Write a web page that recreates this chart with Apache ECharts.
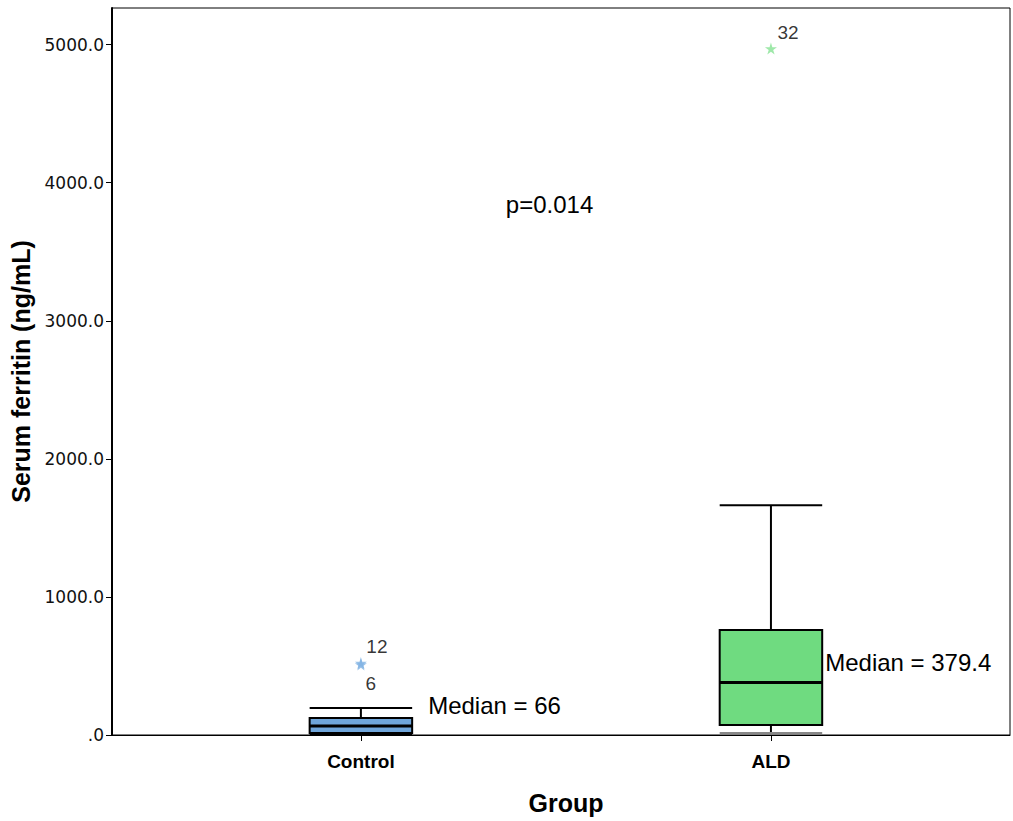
<!DOCTYPE html>
<html><head><meta charset="utf-8">
<script src="https://cdn.jsdelivr.net/npm/echarts@6/dist/echarts.min.js"></script>
<style>html,body{margin:0;padding:0;background:#fff}#c{width:1013px;height:821px}</style>
</head><body><div id="c"></div>
<script>
const categories = ['Control', 'ALD'];
const mins    = [5, 14];
const q1s     = [14, 72];
const medians = [66, 379.4];
const q3s     = [123, 760];
const maxs    = [195, 1664];
const medianLabels = ['Median = 66', 'Median = 379.4'];
// outliers: [category index, value, case id]
const outliers = [[0, 521, '12'], [0, 510, '6'], [1, 4971, '32']];
const pText = 'p=0.014';
const pPos = [0.46, 3842];
const yTicks = [0, 1000, 2000, 3000, 4000, 5000];

const fills = ['#6fa5da', '#6fdb80'];
const starColors = ['#7fb1e2', '#86e294'];
const star = 'path://M50,0 L61,35 L98,35 L68,57 L79,91 L50,70 L21,91 L32,57 L2,35 L39,35 Z';
const font = '"Liberation Sans", Arial, sans-serif';
const wideFont = '"DejaVu Sans", sans-serif';
const labelOffsets = { '12': [16, -17], '6': [10, 19], '32': [17, -16] };

const boxData = categories.map((c, i) => [i, mins[i], q1s[i], medians[i], q3s[i], maxs[i]]);

const chart = echarts.init(document.getElementById('c'), null, { renderer: 'svg' });
chart.setOption({
  animation: false,
  backgroundColor: '#fff',
  grid: { left: 112, right: 3, top: 8, bottom: 86, show: true, borderColor: '#000', borderWidth: 1 },
  xAxis: {
    type: 'value', min: -0.607, max: 1.583,
    splitLine: { show: false },
    axisLine: { show: true, onZero: false, lineStyle: { color: '#000', width: 1 } },
    axisTick: { show: true, customValues: [0, 1], length: 6, lineStyle: { color: '#000' } },
    axisLabel: { customValues: [0, 1], formatter: v => categories[Math.round(v)],
      color: '#000', fontWeight: 'bold', fontSize: 19, fontFamily: font, margin: 17 },
    name: 'Group', nameLocation: 'middle', nameGap: 55,
    nameTextStyle: { color: '#000', fontWeight: 'bold', fontSize: 25, fontFamily: font, padding: [0, 0, 0, 10] }
  },
  yAxis: {
    type: 'value', min: 0, max: 5265, interval: 1000,
    splitLine: { show: false },
    axisLine: { show: true, onZero: false, lineStyle: { color: '#000', width: 2 } },
    axisTick: { show: true, customValues: yTicks, length: 6, lineStyle: { color: '#000' } },
    axisLabel: { customValues: yTicks, formatter: v => v === 0 ? '.0' : v.toFixed(1),
      color: '#111', fontSize: 17, fontFamily: wideFont, margin: 8 },
    name: 'Serum ferritin (ng/mL)', nameLocation: 'middle', nameGap: 79,
    nameTextStyle: { color: '#000', fontWeight: 'bold', fontSize: 25, fontFamily: font }
  },
  series: [
    {
      type: 'custom',
      data: boxData,
      renderItem: function (params, api) {
        const x = api.value(0);
        const hw = 0.125;
        const pMin = api.coord([x, api.value(1)]);
        const pQ1 = api.coord([x, api.value(2)]);
        const pMed = api.coord([x, api.value(3)]);
        const pQ3 = api.coord([x, api.value(4)]);
        const pMax = api.coord([x, api.value(5)]);
        const xl = api.coord([x - hw, 0])[0];
        const xr = api.coord([x + hw, 0])[0];
        const i = params.dataIndex;
        const ls = { stroke: '#000', lineWidth: 2 };
        return {
          type: 'group',
          children: [
            { type: 'line', shape: { x1: pMax[0], y1: pMax[1], x2: pQ3[0], y2: pQ3[1] }, style: ls },
            { type: 'line', shape: { x1: pMin[0], y1: pMin[1], x2: pQ1[0], y2: pQ1[1] }, style: ls },
            { type: 'line', shape: { x1: xl, y1: pMax[1], x2: xr, y2: pMax[1] }, style: ls },
            { type: 'line', shape: { x1: xl, y1: pMin[1], x2: xr, y2: pMin[1] }, style: { stroke: i === 1 ? '#888' : '#000', lineWidth: 2 } },
            { type: 'rect', shape: { x: xl, y: pQ3[1], width: xr - xl, height: pQ1[1] - pQ3[1] },
              style: { fill: fills[i], stroke: '#000', lineWidth: 2 } },
            { type: 'line', shape: { x1: xl, y1: pMed[1], x2: xr, y2: pMed[1] }, style: { stroke: '#000', lineWidth: 3 } }
          ]
        };
      },
      z: 3
    },
    {
      type: 'scatter',
      symbol: star,
      symbolSize: 12,
      data: outliers.map(o => ({
        value: [o[0], o[1]],
        itemStyle: { color: starColors[o[0]] },
        label: {
          show: true, formatter: o[2], color: '#000', fontSize: 19, fontFamily: font,
          position: 'inside', offset: labelOffsets[o[2]]
        }
      })),
      z: 4
    },
    {
      type: 'custom',
      data: categories.map((c, i) => [i, medians[i]]),
      renderItem: function (params, api) {
        const i = params.dataIndex;
        const xr = api.coord([api.value(0) + 0.125, 0])[0];
        const y = i === 0 ? api.coord([0, maxs[i]])[1] - 3 : api.coord([0, api.value(1)])[1] - 20;
        return { type: 'text', x: xr + (i === 0 ? 16 : 3), y: y,
          style: { text: medianLabels[i], fill: '#000', font: '24px ' + font, textVerticalAlign: 'middle' } };
      },
      z: 5
    },
    {
      type: 'custom',
      data: [pPos],
      renderItem: function (params, api) {
        const p = api.coord([api.value(0), api.value(1)]);
        return { type: 'text', x: p[0], y: p[1],
          style: { text: pText, fill: '#000', font: '24px ' + font, textAlign: 'center', textVerticalAlign: 'middle' } };
      },
      z: 5
    }
  ]
});
</script></body></html>
